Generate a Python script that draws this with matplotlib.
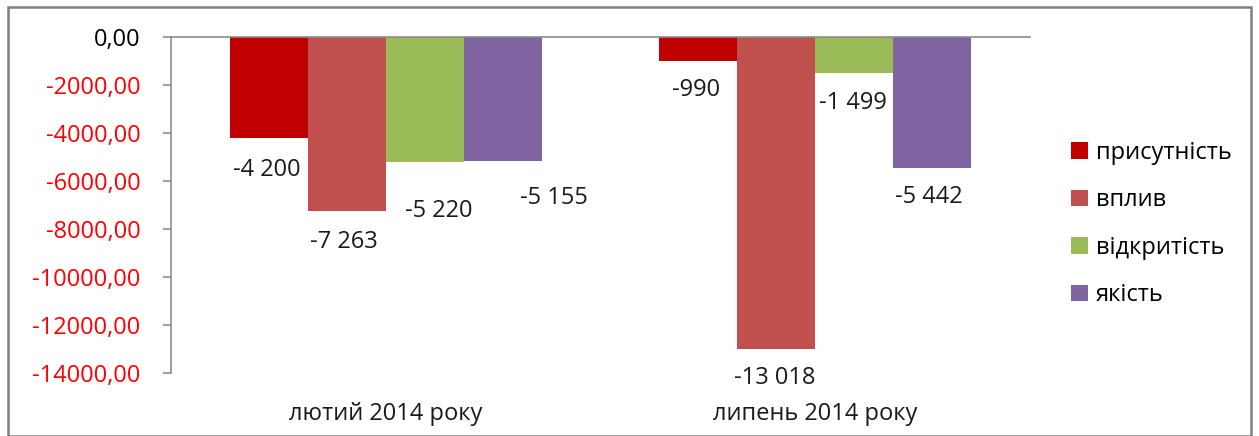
import matplotlib
matplotlib.use("Agg")
import matplotlib.pyplot as plt
from matplotlib.patches import Rectangle
import numpy as np

# --- data ---
categories = ["лютий 2014 року", "липень 2014 року"]
series_names = ["присутність", "вплив", "відкритість", "якість"]
prisutnist = [-4200, -990]
vplyv = [-7263, -13018]
vidkrytist = [-5220, -1499]
yakist = [-5155, -5442]
y_ticks = [0, -2000, -4000, -6000, -8000, -10000, -12000, -14000]

series_values = [prisutnist, vplyv, vidkrytist, yakist]
colors = ["#C00000", "#C0504D", "#9BBB59", "#8064A2"]

# label offsets (pixels) from the bar end, as placed in the original chart
label_dx = [[-2, -2], [-3, -1], [14, -1], [51, -3]]
label_dy = [[32, 29], [31, 29], [49, 30], [37, 29]]

W, H, DPI = 1259, 436, 100
FS = 17
plt.rcParams["font.family"] = ["Open Sans", "DejaVu Sans"]

fig = plt.figure(figsize=(W / DPI, H / DPI), dpi=DPI)
fig.patch.set_facecolor("white")
fig.patches.append(Rectangle((8 / W, 0), 1243 / W, 1 - 7 / H, transform=fig.transFigure,
                             fill=False, edgecolor="#7F7F7F", linewidth=1.8))

ax = fig.add_axes([171 / W, 1 - 373 / H, (1030 - 171) / W, (373 - 37) / H])

x = np.arange(len(categories))
bw = 78 / 429.5
n = len(series_names)
for i, (name, vals, c) in enumerate(zip(series_names, series_values, colors)):
    pos = x + (i - (n - 1) / 2) * bw
    ax.bar(pos, vals, width=bw, color=c, label=name, edgecolor="none")
    for j, (p, v) in enumerate(zip(pos, vals)):
        s = f"{v:,}".replace(",", " ")
        ax.annotate(s, (p, v), xytext=(label_dx[i][j] * 72 / DPI, -label_dy[i][j] * 72 / DPI),
                    textcoords="offset points", ha="center", va="center",
                    fontsize=FS, color="#1a1a1a")

ax.set_xlim(-0.5, 1.5)
ax.set_ylim(-14000, 0)
ax.set_yticks(y_ticks)
ax.set_yticklabels([f"{t},00" for t in y_ticks], fontsize=FS)
for lbl, t in zip(ax.get_yticklabels(), y_ticks):
    lbl.set_color("black" if t == 0 else "#FF0000")
ax.tick_params(axis="y", length=6, color="#8C8C8C", width=1.2, pad=16)

ax.set_xticks(x)
ax.set_xticklabels(categories, fontsize=FS, color="#1a1a1a")
ax.tick_params(axis="x", length=0, pad=21)

for side in ["right", "bottom"]:
    ax.spines[side].set_visible(False)
for side in ["left", "top"]:
    ax.spines[side].set_color("#8C8C8C")
    ax.spines[side].set_linewidth(1.2)

leg = fig.legend(loc="center left", bbox_to_anchor=(1071 / W, 1 - 224 / H), frameon=False,
                 fontsize=FS, handlelength=0.7, handleheight=0.7, handletextpad=0.35,
                 labelspacing=1.0, borderpad=0, borderaxespad=0)

fig.savefig("out.png", dpi=DPI)
